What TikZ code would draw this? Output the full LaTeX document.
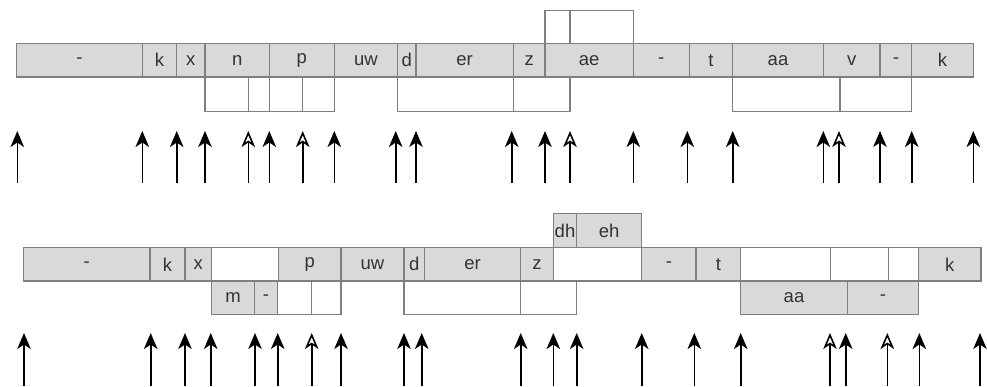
\documentclass[tikz,border=0pt]{standalone}
\usepackage{fontspec}
\setmainfont{Liberation Sans}
\usetikzlibrary{arrows.meta}
\definecolor{cellfill}{HTML}{D9D9D9}
\definecolor{cellline}{HTML}{7F7F7F}
\definecolor{celltext}{HTML}{333333}
\begin{document}
\begin{tikzpicture}[x=1pt,y=-1pt,
  seg/.style={draw=cellline, line width=1.3pt, inner sep=0pt, outer sep=0pt,
    anchor=north west, text=celltext, font=\fontsize{18.5}{20}\selectfont},
  phone/.style={seg, fill=cellfill},
  gap/.style={seg, fill=white},
  solidtip/.style={-{Stealth[length=16pt,width=13.5pt,inset=4.5pt]}, line width=1.6pt},
  hollowtip/.style={-{Stealth[length=16pt,width=13.5pt,inset=4.5pt,fill=white]}, line width=1.6pt},
]
\useasboundingbox (0,0) rectangle (987,386);

% ---------- upper alignment ----------
% main phone row
\foreach \a/\b/\t/\s [count=\i] in {
  16.7/142.3/-/phone, 142.3/176.7/k/phone, 176.7/205/x/phone, 205/269.3/n/phone,
  269.3/334.3/p/phone, 334.3/397.7/uw/phone, 397.7/416/d/phone, 416/513.3/er/phone,
  513.3/545/z/phone, 545/633.3/ae/phone, 633.3/689.3/-/phone, 689.3/732.7/t/phone,
  732.7/823.3/aa/phone, 823.3/880/v/phone, 880/911.7/-/phone, 911.7/973.3/k/phone}
  \node[\s, minimum width={(\b-\a)*1pt}, minimum height=33.5pt] (ua\i) at (\a,43.5) {\t};
% empty slots below
\foreach \a/\b [count=\i] in {
  205/248.3, 248.3/269.3, 269.3/302.7, 302.7/334.3, 397.7/513.3,
  513.3/570, 732.7/840, 840/911.7}
  \node[gap, minimum width={(\b-\a)*1pt}, minimum height=34.5pt] (ul\i) at (\a,77) {};
% empty slots above
\foreach \a/\b [count=\i] in {545/570, 570/633.3}
  \node[gap, minimum width={(\b-\a)*1pt}, minimum height=33pt] (uh\i) at (\a,10.5) {};

% boundary arrows
\foreach \x/\s [count=\i] in {
  17.3/solidtip, 142.3/solidtip, 176.7/solidtip, 205/solidtip, 248.3/hollowtip,
  269.3/solidtip, 302.7/hollowtip, 334.3/solidtip, 395.7/solidtip, 416/solidtip,
  511.7/solidtip, 545/solidtip, 570/hollowtip, 633.3/solidtip, 687.3/solidtip,
  732.7/solidtip, 823.3/solidtip, 839/hollowtip, 880/solidtip, 911.7/solidtip,
  973.3/solidtip} {
  \coordinate (ub\i) at (\x,183);
  \coordinate (ut\i) at (\x,131);
  \draw[\s] (ub\i) -- (ut\i);
}

% ---------- lower alignment ----------
\foreach \a/\b/\t/\s [count=\i] in {
  23.3/150/-/phone, 150/185/k/phone, 185/211.7/x/phone, 211.7/278.3//gap,
  278.3/341/p/phone, 341/404/uw/phone, 404/424.3/d/phone, 424.3/520.7/er/phone,
  520.7/553.3/z/phone, 553.3/641.7//gap, 641.7/696/-/phone, 696/740.7/t/phone,
  740.7/830.7//gap, 830.7/888.7//gap, 888.7/918.7//gap, 918.7/981/k/phone}
  \node[\s, minimum width={(\b-\a)*1pt}, minimum height=33.3pt] (la\i) at (\a,247.7) {\t};
\foreach \a/\b/\t/\s [count=\i] in {
  211.7/254.3/m/phone, 254.3/277.7/-/phone, 277.7/311.7//gap, 311.7/341//gap,
  404/520.7//gap, 520.7/576.7//gap, 740.7/847.3/aa/phone, 847.3/918.7/-/phone}
  \node[\s, minimum width={(\b-\a)*1pt}, minimum height=33.3pt] (ll\i) at (\a,281) {\t};
\foreach \a/\b/\t [count=\i] in {553.3/576.7/dh, 576.7/641.7/eh}
  \node[phone, minimum width={(\b-\a)*1pt}, minimum height=34.2pt] (lh\i) at (\a,213.5) {\t};

\foreach \x/\s [count=\i] in {
  24/solidtip, 150.7/solidtip, 185/solidtip, 210.7/solidtip, 255/solidtip,
  277.7/solidtip, 311.7/hollowtip, 341/solidtip, 404/solidtip, 421.7/solidtip,
  520.7/solidtip, 553.3/solidtip, 576.7/solidtip, 641.7/solidtip, 694.3/solidtip,
  740.7/solidtip, 830/hollowtip, 845.7/solidtip, 887.3/hollowtip, 919.3/solidtip,
  980/solidtip} {
  \coordinate (lb\i) at (\x,386);
  \coordinate (lt\i) at (\x,333);
  \draw[\s] (lb\i) -- (lt\i);
}
\end{tikzpicture}
\end{document}
